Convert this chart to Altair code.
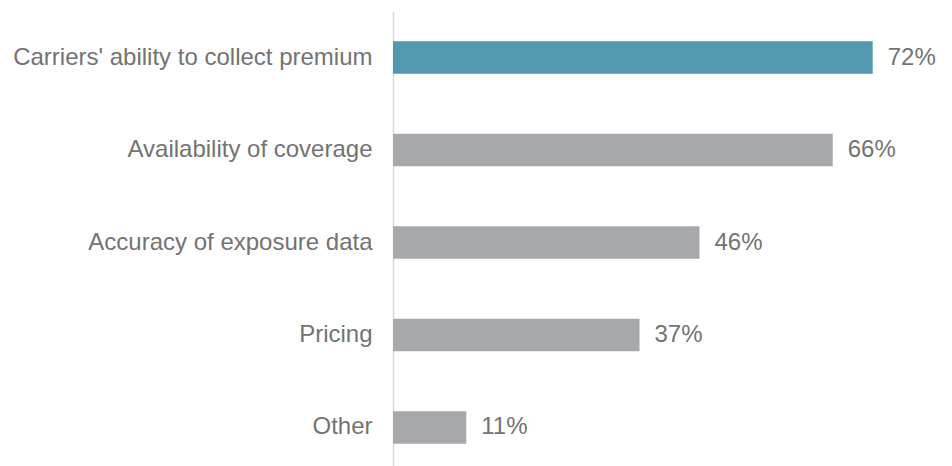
import altair as alt
import pandas as pd

categories = [
    "Carriers' ability to collect premium",
    "Availability of coverage",
    "Accuracy of exposure data",
    "Pricing",
    "Other",
]
values = [72, 66, 46, 37, 11]
labels = ["72%", "66%", "46%", "37%", "11%"]
highlight = [True, False, False, False, False]

df = pd.DataFrame({"category": categories, "value": values, "label": labels, "hl": highlight})

FONT = "Liberation Sans"
TEXT_COLOR = "#737373"

y_enc = alt.Y(
    "category:N",
    sort=categories,
    scale=alt.Scale(paddingInner=0.648, paddingOuter=0.327),
    axis=alt.Axis(
        title=None,
        ticks=False,
        labelFontSize=24,
        labelFont=FONT,
        labelColor=TEXT_COLOR,
        labelPadding=21,
        labelLimit=500,
        domainColor="#d9d9d9",
        domainWidth=1.5,
    ),
)
x_enc = alt.X("value:Q", scale=alt.Scale(domain=[0, 80], nice=False), axis=None)

bars = alt.Chart(df).mark_bar().encode(
    y=y_enc,
    x=x_enc,
    color=alt.condition(alt.datum.hl, alt.value("#5398af"), alt.value("#a7a8ab")),
)

text = alt.Chart(df).mark_text(
    align="left", baseline="middle", dx=15, fontSize=24, font=FONT, color=TEXT_COLOR
).encode(y=alt.Y("category:N", sort=categories), x=x_enc, text="label:N")

chart = (
    (bars + text)
    .properties(
        width=533,
        height=463,
        autosize=alt.AutoSizeParams(type="none"),
        padding={"left": 385, "top": 3, "right": 15, "bottom": 0},
    )
    .configure_view(stroke=None)
)

chart.save("out.html", embed_options={"renderer": "svg", "actions": False})
